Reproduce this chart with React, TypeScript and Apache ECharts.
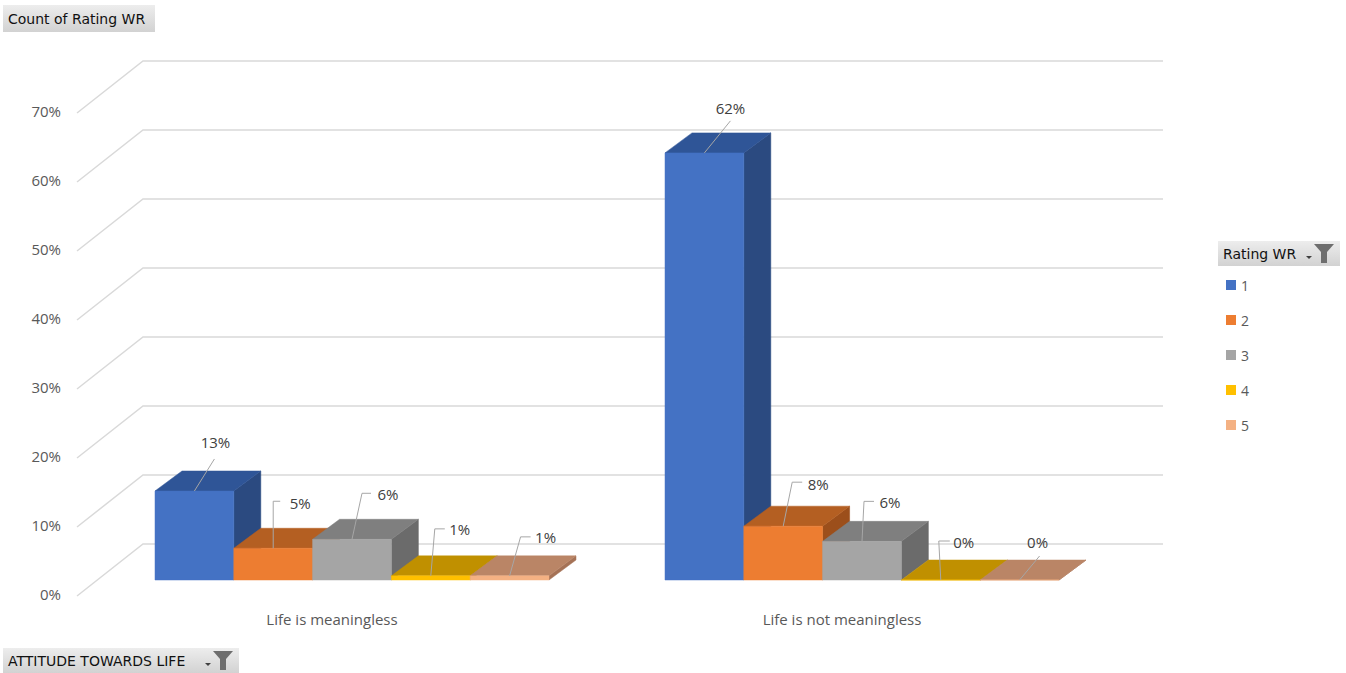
import React, { useEffect, useRef } from "react";
import * as echarts from "echarts";

// ---------- data ----------
const categories = ["Life is meaningless", "Life is not meaningless"];
const ratings = ["1", "2", "3", "4", "5"];
const rating1 = [12.9, 61.9];
const rating2 = [4.6, 7.8];
const rating3 = [5.9, 5.6];
const rating4 = [0.6, 0];
const rating5 = [0.6, 0];
const seriesValues = [rating1, rating2, rating3, rating4, rating5];
const yTicks = [0, 10, 20, 30, 40, 50, 60, 70];

// ---------- styles ----------
const FONT = "'Open Sans', 'Noto Sans', sans-serif";
const BTN_FONT = "'DejaVu Sans', sans-serif";
const faceColors = [
  { front: "#4472C4", top: "#2F5597", side: "#2B4A80" },
  { front: "#ED7D31", top: "#B45F22", side: "#9C4F1B" },
  { front: "#A5A5A5", top: "#7F7F7F", side: "#6B6B6B" },
  { front: "#FFC000", top: "#C09000", side: "#A07800" },
  { front: "#F4B183", top: "#BA8566", side: "#A57256" },
];
// label leader layout per rating, per category: elbow offset, horizontal tail, text centre offset
const labelLayout = [
  [
    { ex: 20, ey: -32, h: 0, tx: 21, ty: -49 },
    { ex: 26, ey: -32, h: 0, tx: 26, ty: -45 },
  ],
  [
    { ex: 0, ey: -47, h: 7, tx: 27, ty: -45 },
    { ex: 9, ey: -44, h: 10, tx: 35, ty: -42 },
  ],
  [
    { ex: 10, ey: -46, h: 9, tx: 36, ty: -45 },
    { ex: 2, ey: -40, h: 10, tx: 28, ty: -39 },
  ],
  [
    { ex: 4, ey: -47, h: 10, tx: 29, ty: -47 },
    { ex: -2, ey: -39, h: 11, tx: 23, ty: -38 },
  ],
  [
    { ex: 11, ey: -39, h: 10, tx: 36, ty: -39 },
    { ex: 20, ey: -24, h: 0, tx: 18, ty: -38 },
  ],
];
const SHIFT_X = 20;
const SHIFT_Y = -14;
const DEPTH_X = 27;
const DEPTH_Y = -20;
const WALL_X = 66;
const WALL_Y = -50;

function button(x: number, y: number, w: number, h: number, label: string, withFilter: boolean) {
  const children: any[] = [
    {
      type: "rect",
      shape: { x, y, width: w, height: h },
      style: {
        fill: new echarts.graphic.LinearGradient(0, 0, 0, 1, [
          { offset: 0, color: "#EDEDED" },
          { offset: 1, color: "#D2D2D2" },
        ]),
      },
    },
    {
      type: "text",
      style: {
        x: x + 5,
        y: y + h / 2,
        text: label,
        fill: "#111111",
        font: `14px ${BTN_FONT}`,
        verticalAlign: "middle",
      },
    },
  ];
  if (withFilter) {
    const fx = x + w - 26;
    const fy = y + 3;
    children.push(
      {
        type: "polygon",
        shape: {
          points: [
            [fx, fy],
            [fx + 20, fy],
            [fx + 13, fy + 8],
            [fx + 13, fy + 19],
            [fx + 7, fy + 19],
            [fx + 7, fy + 8],
          ],
        },
        style: { fill: "#6E6E6E" },
      },
      {
        type: "polygon",
        shape: {
          points: [
            [fx - 8, fy + 12],
            [fx - 2, fy + 12],
            [fx - 5, fy + 15],
          ],
        },
        style: { fill: "#404040" },
      }
    );
  }
  return { type: "group", children };
}

export default function App() {
  const ref = useRef<HTMLDivElement>(null);
  useEffect(() => {
    if (!ref.current) return;
    const chart = echarts.init(ref.current, null, { renderer: "svg" });

    const wallSeries = {
      type: "custom",
      name: "walls",
      silent: true,
      clip: false,
      z: 1,
      data: yTicks.map((t) => [0, t]),
      renderItem: (params: any, api: any) => {
        const cs = params.coordSys;
        const y = api.coord([0, api.value(1)])[1];
        return {
          type: "polyline",
          shape: {
            points: [
              [cs.x, y + 2],
              [cs.x + WALL_X, y + WALL_Y],
              [cs.x + cs.width + WALL_X, y + WALL_Y],
            ],
          },
          style: { stroke: "#D9D9D9", lineWidth: 1.5, fill: "none" },
        };
      },
    };

    const barSeries = ratings.map((r, i) => ({
      type: "custom",
      name: r,
      clip: false,
      z: 2,
      itemStyle: { color: faceColors[i].front },
      data: seriesValues[i].map((v, c) => [c, v]),
      renderItem: (params: any, api: any) => {
        const cat = api.value(0);
        const val = api.value(1);
        const base = api.coord([cat, 0]);
        const topP = api.coord([cat, val]);
        const band = api.size([1, 0])[0];
        const barW = band * 0.1545;
        const x0 = base[0] + SHIFT_X - 2.5 * barW + i * barW;
        const by = base[1] + SHIFT_Y;
        const ty = topP[1] + SHIFT_Y;
        const col = faceColors[i];
        const lay = labelLayout[i][cat];
        const cx = x0 + barW / 2;
        const leader: number[][] = [
          [cx, ty],
          [cx + lay.ex, ty + lay.ey],
        ];
        if (lay.h) leader.push([cx + lay.ex + lay.h, ty + lay.ey]);
        return {
          type: "group",
          children: [
            {
              type: "polygon",
              shape: {
                points: [
                  [x0 + barW, ty],
                  [x0 + barW + DEPTH_X, ty + DEPTH_Y],
                  [x0 + barW + DEPTH_X, by + DEPTH_Y],
                  [x0 + barW, by],
                ],
              },
              style: { fill: col.side, stroke: col.side, lineWidth: 0.5 },
            },
            {
              type: "polygon",
              shape: {
                points: [
                  [x0, ty],
                  [x0 + barW, ty],
                  [x0 + barW + DEPTH_X, ty + DEPTH_Y],
                  [x0 + DEPTH_X, ty + DEPTH_Y],
                ],
              },
              style: { fill: col.top, stroke: col.top, lineWidth: 0.5 },
            },
            {
              type: "rect",
              shape: { x: x0, y: ty, width: barW, height: by - ty },
              style: { fill: col.front, stroke: col.front, lineWidth: 0.5 },
            },
            {
              type: "polyline",
              shape: { points: leader },
              style: { stroke: "#A6A6A6", lineWidth: 1, fill: "none" },
              z2: 10,
            },
            {
              type: "text",
              style: {
                x: cx + lay.tx,
                y: ty + lay.ty,
                text: Math.round(val) + "%",
                fill: "#404040",
                font: `15px ${FONT}`,
                align: "center",
                verticalAlign: "middle",
              },
              z2: 10,
            },
          ],
        };
      },
    }));

    chart.setOption({
      animation: false,
      backgroundColor: "#FFFFFF",
      textStyle: { fontFamily: FONT },
      grid: { left: 77, right: 249, top: 111, bottom: 79, containLabel: false },
      xAxis: {
        type: "category",
        data: categories,
        axisLine: { show: false },
        axisTick: { show: false },
        axisLabel: { color: "#595959", fontSize: 15, margin: 17, fontFamily: FONT },
      },
      yAxis: {
        type: "value",
        min: 0,
        max: 70,
        interval: 10,
        axisLine: { show: false },
        axisTick: { show: false },
        splitLine: { show: false },
        axisLabel: { color: "#595959", fontSize: 15, margin: 16, formatter: "{value}%", fontFamily: FONT },
      },
      legend: {
        data: ratings,
        orient: "vertical",
        left: 1226,
        top: 278,
        padding: 0,
        itemWidth: 10,
        itemHeight: 10,
        itemGap: 21,
        icon: "rect",
        selectedMode: false,
        textStyle: { color: "#595959", fontSize: 14, lineHeight: 14, fontFamily: FONT },
      },
      graphic: [
        button(3, 5, 152, 27, "Count of Rating WR", false),
        button(1218, 241, 122, 25, "Rating WR", true),
        button(3, 648, 236, 25, "ATTITUDE TOWARDS LIFE", true),
      ],
      series: [wallSeries, ...barSeries],
    });
    return () => chart.dispose();
  }, []);
  return (
    <div
      ref={ref}
      style={{ position: "fixed", left: 0, top: 0, width: 1346, height: 673 }}
    />
  );
}
